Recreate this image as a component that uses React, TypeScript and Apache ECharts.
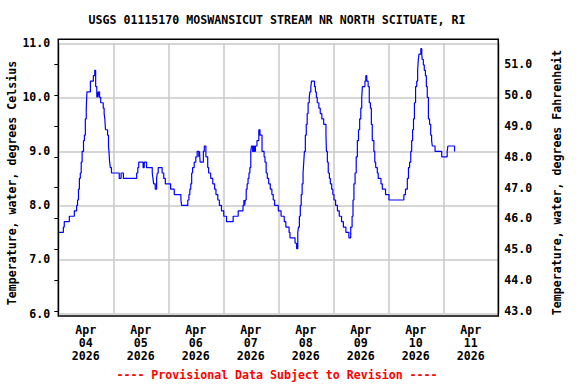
import React, { useEffect, useRef } from "react";
import * as echarts from "echarts";

const titleText = "USGS 01115170 MOSWANSICUT STREAM NR NORTH SCITUATE, RI";
const leftAxisName = "Temperature, water, degrees Celsius";
const rightAxisName = "Temperature, water, degrees Fahrenheit";
const footerText = "---- Provisional Data Subject to Revision ----";

// Day labels, centred at noon of each day (hours from Apr 04 00:00)
const dayLabels = [
  "Apr\n04\n2026",
  "Apr\n05\n2026",
  "Apr\n06\n2026",
  "Apr\n07\n2026",
  "Apr\n08\n2026",
  "Apr\n09\n2026",
  "Apr\n10\n2026",
  "Apr\n11\n2026",
];

// hours since Apr 04 2026 00:00
const hours = [
  0, 2.2, 2.6, 4.8, 7.0, 7.6, 8.0, 8.4, 8.8, 9.2, 9.6, 10.0, 10.4, 11.0, 11.4, 11.8, 12.2, 12.5, 14.0, 15.3,
  15.9, 16.3, 16.8, 17.0, 17.3, 17.6, 18.0, 18.5, 19.6, 20.0, 20.3, 20.6, 21.5, 21.9, 22.1, 22.4, 22.7, 23.2, 26.6, 27.4,
  28.4, 34.2, 34.7, 35.1, 37.0, 37.5, 38.5, 41.0, 41.3, 41.6, 42.3, 42.9, 43.2, 43.6, 45.3, 46.0, 46.7, 49.0, 50.6, 53.5,
  53.8, 56.5, 57.0, 57.4, 57.8, 58.2, 58.6, 59.3, 60.0, 60.6, 61.3, 61.6, 61.9, 63.3, 63.7, 64.4, 65.2, 65.6, 66.5, 67.4,
  68.2, 68.8, 69.6, 70.3, 71.2, 72.2, 73.4, 76.3, 78.5, 80.6, 81.0, 81.3, 81.6, 82.0, 82.4, 82.8, 83.2, 83.6, 84.0, 84.3,
  84.8, 85.2, 85.6, 86.0, 86.7, 87.5, 88.0, 88.9, 89.8, 90.2, 90.7, 91.2, 91.8, 92.5, 93.2, 93.8, 94.4, 96.0, 97.2, 98.6,
  99.3, 100.7, 101.1, 103.3, 104.0, 104.5, 104.8, 105.2, 105.6, 106.0, 106.4, 106.8, 107.1, 107.4, 107.8, 108.2, 108.6, 109.0, 109.5, 109.8,
  110.2, 110.5, 111.8, 112.2, 112.6, 113.0, 113.7, 114.3, 115.0, 115.8, 116.8, 117.0, 117.4, 117.8, 118.3, 118.7, 119.3, 119.8, 120.3, 121.0,
  121.8, 122.6, 123.6, 124.4, 125.5, 126.8, 127.6, 128.2, 128.6, 129.0, 129.5, 130.0, 130.5, 131.0, 131.5, 132.0, 132.4, 132.7, 133.8, 134.2,
  134.6, 135.2, 135.7, 136.2, 136.6, 137.0, 137.7, 138.1, 138.5, 139.2, 139.6, 140.8, 141.4, 142.8, 144.3, 150.8, 151.5, 152.3, 152.8, 153.3,
  153.8, 154.2, 154.6, 155.0, 155.4, 155.9, 156.4, 156.8, 157.1, 157.4, 158.2, 158.6, 158.8, 159.3, 159.7, 160.2, 160.6, 161.0, 161.5, 162.0,
  162.5, 162.9, 163.2, 164.4, 167.3, 169.7, 170.0, 172.9, 173.0,
];

const tempC = [
  7.5, 7.6, 7.7, 7.8, 7.9, 7.9, 8.0, 8.1, 8.3, 8.5, 8.6, 8.8, 9.0, 9.2, 9.3, 9.6, 9.8, 10.1, 10.3, 10.4,
  10.5, 10.2, 10.0, 10.1, 10.0, 10.1, 10.0, 9.9, 9.8, 9.7, 9.6, 9.4, 9.3, 9.1, 9.0, 8.8, 8.7, 8.6, 8.5, 8.6,
  8.5, 8.6, 8.7, 8.8, 8.7, 8.8, 8.7, 8.6, 8.5, 8.4, 8.3, 8.5, 8.6, 8.7, 8.6, 8.5, 8.4, 8.3, 8.2, 8.1,
  8.0, 8.1, 8.2, 8.3, 8.4, 8.6, 8.7, 8.8, 8.9, 9.0, 8.9, 9.0, 8.8, 9.0, 9.1, 8.9, 8.7, 8.6, 8.5, 8.4,
  8.3, 8.2, 8.1, 8.0, 7.9, 7.8, 7.7, 7.8, 7.9, 8.0, 8.1, 8.0, 8.1, 8.3, 8.4, 8.5, 8.6, 8.7, 9.0, 9.1,
  9.0, 9.1, 9.0, 9.1, 9.2, 9.4, 9.3, 9.0, 8.9, 8.8, 8.6, 8.5, 8.4, 8.3, 8.2, 8.1, 8.0, 7.9, 7.8, 7.7,
  7.6, 7.5, 7.4, 7.3, 7.2, 7.5, 7.6, 7.8, 8.0, 8.2, 8.4, 8.6, 8.8, 9.0, 9.3, 9.5, 9.7, 9.9, 10.0, 10.1,
  10.2, 10.3, 10.2, 10.1, 10.0, 9.9, 9.8, 9.7, 9.6, 9.5, 9.3, 9.0, 8.8, 8.6, 8.5, 8.4, 8.3, 8.2, 8.1, 8.0,
  7.9, 7.8, 7.7, 7.6, 7.5, 7.4, 7.6, 7.8, 8.1, 8.4, 8.6, 8.9, 9.2, 9.4, 9.6, 9.8, 10.0, 10.2, 10.3, 10.4,
  10.3, 10.2, 9.9, 9.8, 9.5, 9.2, 9.0, 8.8, 8.7, 8.6, 8.5, 8.4, 8.3, 8.2, 8.1, 8.2, 8.3, 8.5, 8.7, 8.8,
  9.0, 9.2, 9.4, 9.6, 9.9, 10.2, 10.3, 10.5, 10.7, 10.8, 10.9, 10.8, 10.7, 10.6, 10.5, 10.4, 10.2, 10.0, 9.6, 9.5,
  9.3, 9.2, 9.1, 9.0, 8.9, 9.0, 9.1, 9.0, 9.0,
];

const FONT = "'DejaVu Sans Mono', 'Liberation Mono', monospace";
const FS = 11.6;

export default function App() {
  const ref = useRef<HTMLDivElement>(null);

  useEffect(() => {
    document.body.style.margin = "0";
    if (!ref.current) return;
    const chart = echarts.init(ref.current, null, { renderer: "svg" });

    const L = 58.3;
    const R = 498.3;
    const T0 = 39.3;
    const B0 = 316;
    const y11 = 43.3;
    const y6 = 313.5;
    const yF51 = 64.3;
    const yF43 = 311;

    const data = hours.map((h, i) => [h, tempC[i]]);
    const textBase = { fontFamily: FONT, fontSize: FS, fontWeight: "bold", fill: "#000" };

    chart.setOption({
      animation: false,
      backgroundColor: "#fff",
      grid: [
        { left: L, right: 576 - R, top: y11, bottom: 384 - y6, containLabel: false },
        { left: L, right: 576 - R, top: yF51, bottom: 384 - yF43, containLabel: false },
      ],
      xAxis: [
        {
          type: "value",
          gridIndex: 0,
          min: 0,
          max: 192,
          interval: 24,
          axisLine: { show: false },
          axisTick: { show: false },
          axisLabel: { show: false },
          splitLine: { show: true, lineStyle: { color: "#c8c8c8", width: 1.5 } },
        },
        {
          type: "value",
          gridIndex: 0,
          position: "bottom",
          min: 0,
          max: 192,
          interval: 12,
          axisLine: { show: false },
          axisTick: { show: false },
          splitLine: { show: false },
          axisLabel: {
            show: true,
            margin: 10.5,
            fontFamily: FONT,
            fontSize: FS,
            fontWeight: "bold",
            color: "#000",
            lineHeight: 12.6,
            showMinLabel: true,
            showMaxLabel: true,
            formatter: (v: number) => {
              const r = Math.round(v);
              if (r % 24 === 12) return dayLabels[(r - 12) / 24] || "";
              return "";
            },
          },
        },
        {
          type: "value",
          gridIndex: 1,
          min: 0,
          max: 1,
          show: false,
        },
      ],
      yAxis: [
        {
          type: "value",
          gridIndex: 0,
          min: 6,
          max: 11,
          interval: 1,
          axisLine: { show: false },
          axisTick: { show: false },
          splitLine: { show: true, lineStyle: { color: "#c8c8c8", width: 1.5 } },
          axisLabel: {
            margin: 8,
            fontFamily: FONT,
            fontSize: FS,
            fontWeight: "bold",
            color: "#000",
            formatter: (v: number) => v.toFixed(1),
          },
        },
        {
          type: "value",
          gridIndex: 1,
          position: "right",
          min: 43,
          max: 51,
          interval: 1,
          axisLine: { show: false },
          axisTick: { show: true, inside: true, length: 4, lineStyle: { color: "#000", width: 1 } },
          splitLine: { show: false },
          axisLabel: {
            margin: 6,
            fontFamily: FONT,
            fontSize: FS,
            fontWeight: "bold",
            color: "#000",
            formatter: (v: number) => v.toFixed(1),
          },
        },
      ],
      series: [
        {
          type: "line",
          xAxisIndex: 0,
          yAxisIndex: 0,
          data,
          step: "end",
          symbol: "none",
          lineStyle: { color: "#0000ff", width: 1.2 },
          z: 5,
        },
      ],
      graphic: [
        {
          type: "rect",
          shape: { x: L, y: T0, width: R - L, height: B0 - T0 },
          style: { fill: "none", stroke: "#000", lineWidth: 1.5 },
          z: 10,
          silent: true,
        },
        {
          type: "text",
          x: 277,
          y: 20.3,
          style: { ...textBase, text: titleText, textAlign: "center", textVerticalAlign: "middle" },
        },
        {
          type: "text",
          x: 11.7,
          y: 183,
          rotation: Math.PI / 2,
          style: { ...textBase, text: leftAxisName, textAlign: "center", textVerticalAlign: "middle" },
        },
        {
          type: "text",
          x: 556.5,
          y: 182.5,
          rotation: Math.PI / 2,
          style: { ...textBase, text: rightAxisName, textAlign: "center", textVerticalAlign: "middle" },
        },
        {
          type: "text",
          x: 277,
          y: 375,
          style: { ...textBase, fill: "#ff0000", text: footerText, textAlign: "center", textVerticalAlign: "middle" },
        },
      ],
    });

    return () => chart.dispose();
  }, []);

  return <div ref={ref} style={{ width: 576, height: 384 }} />;
}
